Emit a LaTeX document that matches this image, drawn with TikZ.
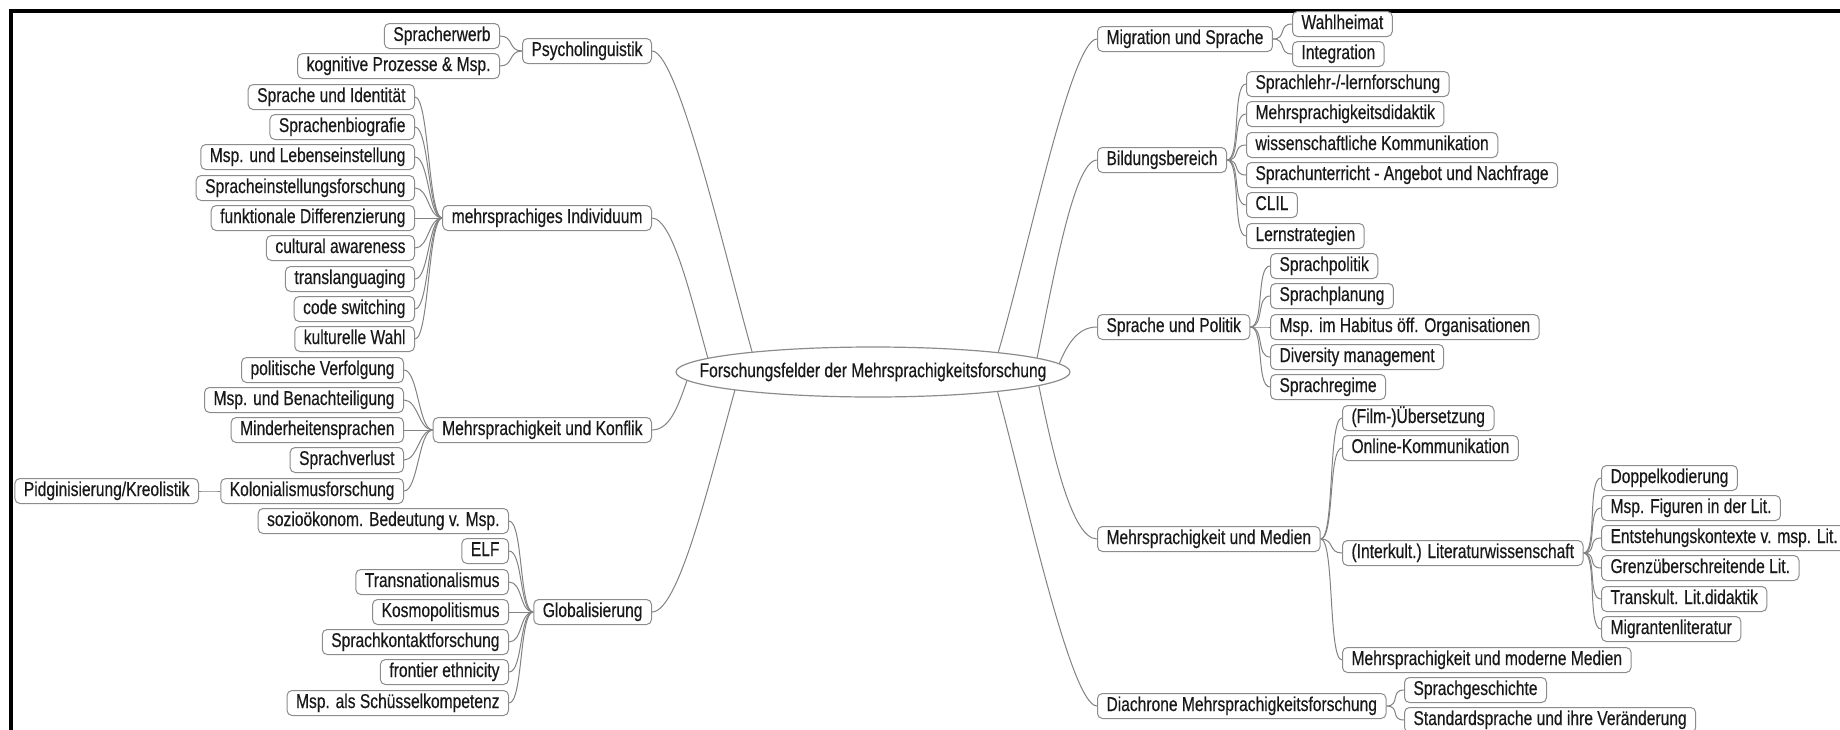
\documentclass[tikz,border=0pt]{standalone}
\usepackage{fontspec}
\setmainfont{Liberation Sans}[FakeStretch=0.78,FakeBold=0.4]
\usetikzlibrary{calc,backgrounds}
\definecolor{boxc}{RGB}{140,140,140}
\definecolor{linec}{RGB}{130,130,130}
\definecolor{txt}{RGB}{25,25,25}
\newcommand\lconn[2]{\draw[conn] (#1.west) .. controls +(-14,0) and +(14,0) .. (#2.east);}
\newcommand\rconn[2]{\draw[conn] (#1.east) .. controls +(14,0) and +(-14,0) .. (#2.west);}
\begin{document}
\begin{tikzpicture}[x=1pt,y=-1pt,
  box/.style={draw=boxc, line width=1pt, rounded corners=5pt, fill=white,
    inner xsep=9pt, inner ysep=0pt, minimum height=25pt, text height=14pt,
    text depth=4pt, font=\fontsize{20}{22}\selectfont, text=txt},
  lb/.style={box, anchor=east},
  rb/.style={box, anchor=west},
  conn/.style={draw=linec, line width=1pt},
  rootst/.style={inner sep=0pt, font=\fontsize{20}{22}\selectfont, text=txt}]
\useasboundingbox (0,0) rectangle (1840,729);
\draw[line width=4pt] (11,740) -- (11,10.5) -- (1850,10.5);

% root
\filldraw[fill=white, draw=boxc, line width=1.2pt] (873,372) ellipse [x radius=197pt, y radius=25pt];
\node[rootst] (root) at (873,372) {Forschungsfelder der Mehrsprachigkeitsforschung};

% ---------- left side ----------
\node[lb] (psy) at (652,51) {Psycholinguistik};
\node[lb] (spe) at (500,36) {Spracherwerb};
\node[lb] (kog) at (500,66) {kognitive Prozesse \& Msp.};

\node[lb] (ind) at (652,218) {mehrsprachiges Individuum};
\node[lb] (sid) at (415,97) {Sprache und Identität};
\node[lb] (sbio) at (415,127) {Sprachenbiografie};
\node[lb] (mle) at (415,157) {Msp. und Lebenseinstellung};
\node[lb] (sef) at (415,188) {Spracheinstellungsforschung};
\node[lb] (fdi) at (415,218) {funktionale Differenzierung};
\node[lb] (cul) at (415,248) {cultural awareness};
\node[lb] (trl) at (415,279) {translanguaging};
\node[lb] (cod) at (415,309) {code switching};
\node[lb] (kwa) at (415,339) {kulturelle Wahl};

\node[lb] (kon) at (652,430) {Mehrsprachigkeit und Konflik};
\node[lb] (pve) at (404,370) {politische Verfolgung};
\node[lb] (mbe) at (404,400) {Msp. und Benachteiligung};
\node[lb] (min) at (404,430) {Minderheitensprachen};
\node[lb] (sve) at (404,460) {Sprachverlust};
\node[lb] (kol) at (404,491) {Kolonialismusforschung};
\node[lb] (pid) at (199,491) {Pidginisierung/Kreolistik};

\node[lb] (glo) at (652,612) {Globalisierung};
\node[lb] (soz) at (509,521) {sozioökonom. Bedeutung v. Msp.};
\node[lb] (elf) at (509,551) {ELF};
\node[lb] (trn) at (509,582) {Transnationalismus};
\node[lb] (kos) at (509,612) {Kosmopolitismus};
\node[lb] (skf) at (509,642) {Sprachkontaktforschung};
\node[lb] (fro) at (509,672) {frontier ethnicity};
\node[lb] (msk) at (509,703) {Msp. als Schüsselkompetenz};

% ---------- right side ----------
\node[rb] (mig) at (1097,39) {Migration und Sprache};
\node[rb] (wah) at (1292,24) {Wahlheimat};
\node[rb] (int) at (1292,54) {Integration};

\node[rb] (bil) at (1097,160) {Bildungsbereich};
\node[rb] (slf) at (1246,84) {Sprachlehr-/-lernforschung};
\node[rb] (mdd) at (1246,114) {Mehrsprachigkeitsdidaktik};
\node[rb] (wko) at (1246,145) {wissenschaftliche Kommunikation};
\node[rb] (sua) at (1246,175) {Sprachunterricht - Angebot und Nachfrage};
\node[rb] (cli) at (1246,205) {CLIL};
\node[rb] (lst) at (1246,236) {Lernstrategien};

\node[rb] (spo) at (1097,327) {Sprache und Politik};
\node[rb] (spp) at (1270,266) {Sprachpolitik};
\node[rb] (spl) at (1270,296) {Sprachplanung};
\node[rb] (hab) at (1270,327) {Msp. im Habitus öff. Organisationen};
\node[rb] (div) at (1270,357) {Diversity management};
\node[rb] (srg) at (1270,387) {Sprachregime};

\node[rb] (med) at (1097,539) {Mehrsprachigkeit und Medien};
\node[rb] (fil) at (1342,418) {(Film-)Übersetzung};
\node[rb] (onl) at (1342,448) {Online-Kommunikation};
\node[rb] (ilw) at (1342,553) {(Interkult.) Literaturwissenschaft};
\node[rb] (mmm) at (1342,660) {Mehrsprachigkeit und moderne Medien};
\node[rb] (dop) at (1601,478) {Doppelkodierung};
\node[rb] (fig) at (1601,508) {Msp. Figuren in der Lit.};
\node[rb] (ent) at (1601,538) {Entstehungskontexte v. msp. Lit.};
\node[rb] (gre) at (1601,568) {Grenzüberschreitende Lit.};
\node[rb] (tld) at (1601,599) {Transkult. Lit.didaktik};
\node[rb] (mgl) at (1601,629) {Migrantenliteratur};

\node[rb] (dia) at (1097,706) {Diachrone Mehrsprachigkeitsforschung};
\node[rb] (sge) at (1404,690) {Sprachgeschichte};
\node[rb] (std) at (1404,720) {Standardsprache und ihre Veränderung};

\begin{scope}[on background layer]
% root connectors
\draw[conn] (psy.east) .. controls +(28,0) and +(-25,-81) .. ($(root.center)+(-115,0)$);
\draw[conn] (ind.east) .. controls +(23,0) and +(-16,-52) .. ($(root.center)+(-161,0)$);
\draw[conn] (kon.east) .. controls +(20,0) and +(-10,28) .. ($(root.center)+(-183,0)$);
\draw[conn] (glo.east) .. controls +(28,0) and +(-28,98) .. ($(root.center)+(-133,0)$);
\draw[conn] (mig.west) .. controls +(-28,0) and +(28,-82) .. ($(root.center)+(119,0)$);
\draw[conn] (bil.west) .. controls +(-25,0) and +(16,-72) .. ($(root.center)+(161,0)$);
\draw[conn] (spo.west) .. controls +(-20,0) and +(10,-27) .. ($(root.center)+(183,0)$);
\draw[conn] (med.west) .. controls +(-27,0) and +(14,68) .. ($(root.center)+(163,0)$);
\draw[conn] (dia.west) .. controls +(-28,0) and +(26,88) .. ($(root.center)+(119,0)$);
% left children
\foreach \c in {spe,kog} {\lconn{psy}{\c}}
\foreach \c in {sid,sbio,mle,sef,fdi,cul,trl,cod,kwa} {\lconn{ind}{\c}}
\foreach \c in {pve,mbe,min,sve,kol} {\lconn{kon}{\c}}
\lconn{kol}{pid}
\foreach \c in {soz,elf,trn,kos,skf,fro,msk} {\lconn{glo}{\c}}
% right children
\foreach \c in {wah,int} {\rconn{mig}{\c}}
\foreach \c in {slf,mdd,wko,sua,cli,lst} {\rconn{bil}{\c}}
\foreach \c in {spp,spl,hab,div,srg} {\rconn{spo}{\c}}
\foreach \c in {fil,onl,ilw,mmm} {\rconn{med}{\c}}
\foreach \c in {dop,fig,ent,gre,tld,mgl} {\rconn{ilw}{\c}}
\foreach \c in {sge,std} {\rconn{dia}{\c}}
\end{scope}
\end{tikzpicture}
\end{document}
